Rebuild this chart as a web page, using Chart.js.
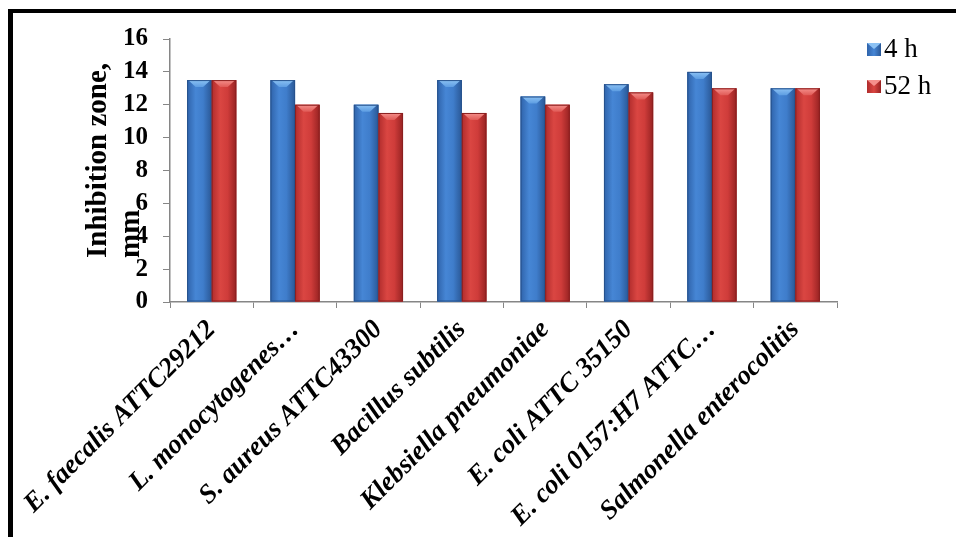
<!DOCTYPE html>
<html>
<head>
<meta charset="utf-8">
<script src="https://cdn.jsdelivr.net/npm/chart.js@4/dist/chart.umd.min.js"></script>
<style>
body{margin:0;background:#fff;width:956px;height:537px;overflow:hidden;position:relative}
#frame{position:absolute;left:8px;top:9px;width:1000px;height:600px;border-top:4px solid #000;border-left:5px solid #000;box-sizing:border-box}
#grafico{position:absolute;left:0;top:0}
</style>
</head>
<body>
<div id="frame"></div>
<canvas id="grafico" width="956" height="537"></canvas>
<script>
let cepas=["E. faecalis ATTC29212","L. monocytogenes…","S. aureus ATTC43300","Bacillus subtilis","Klebsiella pneumoniae","E. coli ATTC 35150","E. coli 0157:H7 ATTC…","Salmonella enterocolitis"]
let h4=[13.5,13.5,12,13.5,12.5,13.25,14,13]
let h52=[13.5,12,11.5,11.5,12,12.75,13,13]
let series=["4 h","52 h"]
let yTicks=[0,2,4,6,8,10,12,14,16]

let serif="'Liberation Serif','Times New Roman',serif"

// cores das barras: borda escura, meio claro, topo chanfrado
let cores=[
{base:"#3b76c4",borda:"#27528c",stops:["#2f63aa","#4686d5","#3f7dcb","#2a5896"],topo:["#8cc2f4","#5d9de2"]},
{base:"#c9373a",borda:"#8a1f1f",stops:["#b02c2c","#da4642","#cf3c3a","#962222"],topo:["#f5908c","#e05a56"]}
]

let barras3d={
id:"barras3d",
afterDatasetsDraw(chart){
let ctx=chart.ctx
chart.data.datasets.forEach((d,di)=>{
let c=cores[di]
chart.getDatasetMeta(di).data.forEach(bar=>{
let p=bar.getProps(["x","y","base","width"],true)
let l=p.x-p.width/2,r=p.x+p.width/2,t=p.y,b=p.base
let g=ctx.createLinearGradient(l,0,r,0)
g.addColorStop(0,c.stops[0]);g.addColorStop(0.35,c.stops[1]);g.addColorStop(0.65,c.stops[2]);g.addColorStop(1,c.stops[3])
ctx.save()
ctx.fillStyle=g
ctx.fillRect(l,t,r-l,b-t)
// chanfro do topo
let hb=7
let tg=ctx.createLinearGradient(0,t,0,t+hb)
tg.addColorStop(0,c.topo[0]);tg.addColorStop(1,c.topo[1])
ctx.fillStyle=tg
ctx.beginPath()
ctx.moveTo(l+1,t);ctx.lineTo(r-1,t);ctx.lineTo(p.x+p.width*0.15,t+hb);ctx.lineTo(p.x-p.width*0.15,t+hb);ctx.closePath()
ctx.fill()
ctx.strokeStyle=c.borda
ctx.lineWidth=1
ctx.strokeRect(l+0.5,t+0.5,r-l-1,b-t-1)
ctx.restore()
})
})
}
}

let extras={
id:"extras",
afterDraw(chart){
let ctx=chart.ctx
ctx.save()
// titulo do eixo y em duas linhas
ctx.fillStyle="#000"
ctx.font="bold 29px "+serif
ctx.textAlign="left"
ctx.textBaseline="alphabetic"
ctx.translate(106,258)
ctx.rotate(-Math.PI/2)
ctx.fillText("Inhibition zone,",0,0)
ctx.fillText("mm",0,33)
ctx.restore()

// legenda
ctx.save()
ctx.font="27px "+serif
ctx.textBaseline="middle"
series.forEach((s,i)=>{
let y=49+i*37
let c=cores[i]
let g=ctx.createLinearGradient(867,0,881,0)
g.addColorStop(0,c.stops[0]);g.addColorStop(0.5,c.stops[1]);g.addColorStop(1,c.stops[3])
ctx.fillStyle=g
ctx.fillRect(867,y-6,14,13)
ctx.fillStyle=c.topo[0]
ctx.beginPath();ctx.moveTo(867,y-6);ctx.lineTo(881,y-6);ctx.lineTo(874,y);ctx.closePath();ctx.fill()
ctx.fillStyle="#000"
ctx.fillText(s,884,y+1)
})
ctx.restore()
}
}

new Chart(document.getElementById("grafico"),{
type:"bar",
data:{
labels:cepas,
datasets:[
{label:series[0],data:h4,backgroundColor:cores[0].base,borderWidth:0},
{label:series[1],data:h52,backgroundColor:cores[1].base,borderWidth:0}
]
},
options:{
responsive:false,
animation:false,
events:[],
layout:{padding:{top:39,right:119,left:0,bottom:0}},
categoryPercentage:0.59,
barPercentage:1,
plugins:{legend:{display:false},tooltip:{enabled:false}},
scales:{
x:{
grid:{drawOnChartArea:false,tickLength:6,color:"#868686",offset:true},
border:{color:"#868686",width:1.5},
ticks:{autoSkip:false,minRotation:45,maxRotation:45,color:"#000",padding:6,font:{family:serif,size:27,weight:"bold",style:"italic"}},
afterFit(s){s.height=235}
},
y:{
min:0,max:16,
afterBuildTicks(s){s.ticks=yTicks.map(v=>({value:v}))},
grid:{drawOnChartArea:false,tickLength:7,color:"#868686"},
border:{color:"#868686",width:1.5},
ticks:{autoSkip:false,color:"#000",padding:15,font:{family:serif,size:25,weight:"bold"}},
afterFit(s){s.width=170}
}
}
},
plugins:[barras3d,extras]
})
</script>
</body>
</html>
